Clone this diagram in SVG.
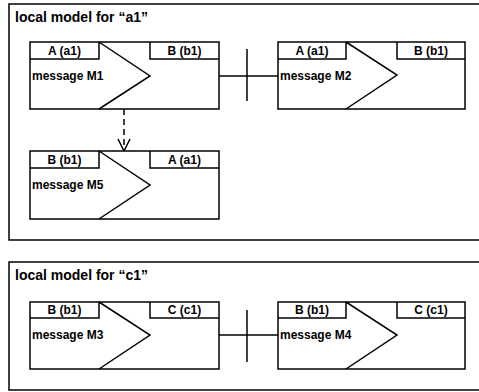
<svg xmlns="http://www.w3.org/2000/svg" width="479" height="392" viewBox="0 0 479 392">
<defs>
<style>
.frame{fill:#fff;stroke:#000;stroke-width:1.5}
.box{fill:#fff;stroke:#000;stroke-width:1.5}
.ln{fill:none;stroke:#000;stroke-width:1.5}
.title{font-family:"Liberation Sans",Arial,sans-serif;font-weight:bold;font-size:14px}
.lbl{font-family:"Liberation Sans",Arial,sans-serif;font-weight:bold;font-size:12px}
.hd{font-family:"Liberation Sans",Arial,sans-serif;font-weight:bold;font-size:12px;text-anchor:middle}
</style>
<marker id="open" viewBox="0 0 14 14" refX="13" refY="7" markerWidth="14" markerHeight="14" markerUnits="userSpaceOnUse" orient="auto">
<path d="M1,1 L13,7 L1,13" fill="none" stroke="#000" stroke-width="1.5"/>
</marker>
</defs>
<rect width="479" height="392" fill="#fff"/>
<g id="frame-a1">
<rect class="frame" x="9" y="4" width="480" height="236"/>
<text class="title" x="15" y="22">local model for “a1”</text>
</g>
<g id="frame-c1">
<rect class="frame" x="9" y="262" width="480" height="128"/>
<text class="title" x="15" y="280">local model for “c1”</text>
</g>
<g id="connectors">
<line class="ln" x1="219" y1="76" x2="278" y2="76"/>
<line class="ln" x1="247" y1="49" x2="247" y2="101"/>
<line class="ln" x1="219" y1="335" x2="278" y2="335"/>
<line class="ln" x1="247" y1="310" x2="247" y2="362"/>
<line class="ln" x1="124" y1="109" x2="124" y2="151" stroke-dasharray="6,4" marker-end="url(#open)"/>
</g>
<g id="M1">
<rect class="box" x="30" y="42" width="189" height="67"/>
<path class="ln" d="M30,59 H99 V42 M150,42 V59 H219 M99,42 L150,76 L99,109"/>
<text class="hd" x="64.5" y="55">A (a1)</text>
<text class="hd" x="184.5" y="55">B (b1)</text>
<text class="lbl" x="32" y="80">message M1</text>
</g>
<g id="M2">
<rect class="box" x="278" y="42" width="187" height="67"/>
<path class="ln" d="M278,59 H346 V42 M397,42 V59 H465 M346,42 L397,75 L346,109"/>
<text class="hd" x="312" y="55">A (a1)</text>
<text class="hd" x="431" y="55">B (b1)</text>
<text class="lbl" x="280" y="80">message M2</text>
</g>
<g id="M5">
<rect class="box" x="30" y="151" width="189" height="68"/>
<path class="ln" d="M30,168 H99 V151 M150,151 V168 H219 M99,151 L150,185 L99,219"/>
<text class="hd" x="64.5" y="164">B (b1)</text>
<text class="hd" x="184.5" y="164">A (a1)</text>
<text class="lbl" x="32" y="189">message M5</text>
</g>
<g id="M3">
<rect class="box" x="30" y="302" width="189" height="67"/>
<path class="ln" d="M30,318 H99 V302 M150,302 V318 H219 M99,302 L150,335 L99,369"/>
<text class="hd" x="64.5" y="314">B (b1)</text>
<text class="hd" x="184.5" y="314">C (c1)</text>
<text class="lbl" x="32" y="339">message M3</text>
</g>
<g id="M4">
<rect class="box" x="278" y="302" width="187" height="67"/>
<path class="ln" d="M278,318 H346 V302 M397,302 V318 H465 M346,302 L397,335 L346,369"/>
<text class="hd" x="312" y="314">B (b1)</text>
<text class="hd" x="431" y="314">C (c1)</text>
<text class="lbl" x="280" y="339">message M4</text>
</g>
</svg>
